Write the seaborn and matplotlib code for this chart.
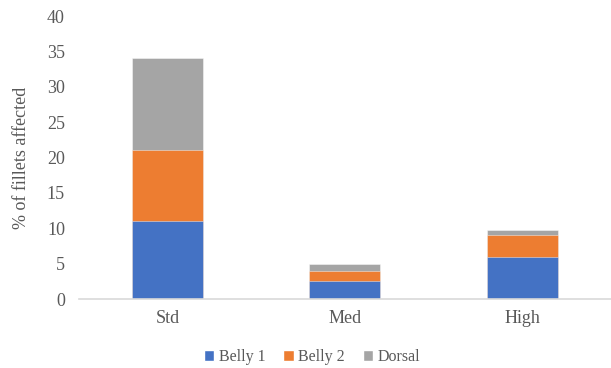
import pandas as pd
import matplotlib.pyplot as plt
import seaborn as sns
from matplotlib.patches import Patch

# values
groups = ['Std', 'Med', 'High']
belly1 = [11, 2.5, 6]
belly2 = [10, 1.4, 3]
dorsal = [13, 1.1, 0.75]

series = ['Belly 1', 'Belly 2', 'Dorsal']
colors = ['#4472C4', '#ED7D31', '#A5A5A5']


def plot_stacked(df):
    sns.set_style('white')
    plt.rcParams['font.family'] = ['Liberation Serif', 'DejaVu Serif']

    fig = plt.figure(figsize=(6.11, 3.68), dpi=100)
    ax = fig.add_axes([0.129, 0.1875, 0.871, 0.769])

    # stack by drawing cumulative totals from the top segment down
    cum = df[series].cumsum(axis=1)
    for name, color in reversed(list(zip(series, colors))):
        sns.barplot(x=df['group'], y=cum[name], color=color, width=0.4,
                    saturation=1, ax=ax, order=groups, linewidth=0.6,
                    edgecolor='#FFFFFF80')

    ax.set_ylim(0, 40)
    ax.set_yticks(range(0, 41, 5))
    ax.set_xlabel('')
    ax.set_ylabel('% of fillets affected', fontsize=13, color='#595959',
                  labelpad=12)
    ax.tick_params(axis='both', labelsize=13, colors='#595959', length=0)
    ax.tick_params(axis='y', pad=10)
    ax.tick_params(axis='x', pad=8)
    for side in ['top', 'right', 'left']:
        ax.spines[side].set_visible(False)
    ax.spines['bottom'].set_color('#D9D9D9')
    ax.spines['bottom'].set_linewidth(1.2)

    handles = [Patch(facecolor=c, label=s) for s, c in zip(series, colors)]
    leg = fig.legend(handles=handles, loc='center', bbox_to_anchor=(0.511, 0.03),
                     ncol=3, frameon=False, fontsize=11.5, handlelength=0.65,
                     handleheight=0.65, handletextpad=0.3, columnspacing=1.1)
    for t in leg.get_texts():
        t.set_color('#595959')

    fig.savefig('out.png', dpi=100)
    plt.close(fig)


if __name__ == '__main__':
    data = pd.DataFrame({'group': groups, 'Belly 1': belly1,
                         'Belly 2': belly2, 'Dorsal': dorsal})
    plot_stacked(data)
